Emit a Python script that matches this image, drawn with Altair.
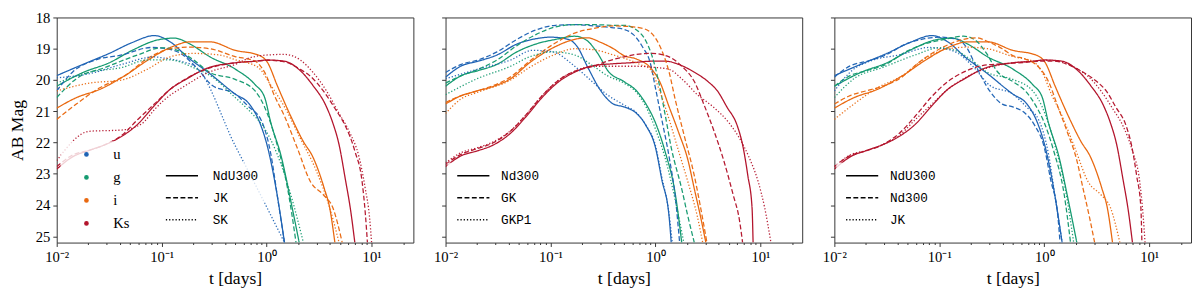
import altair as alt
import pandas as pd

BANDS = ["u", "g", "i", "Ks"]
BAND_COLORS = ["#1f63b4", "#149a70", "#e9680f", "#b3142c"]

# ---- values: log10(t / day) and AB magnitude ----
# NdU300
NDU300_U_LT = [-2, -1.75, -1.5, -1.28, -1.07, -0.91, -0.76, -0.54, -0.3, -0.17, -0.065, 0.01, 0.09, 0.17]
NDU300_U_MAG = [19.86, 19.5, 19.15, 18.8, 18.58, 18.8, 19.25, 19.8, 20.45, 20.75, 21.37, 22.16, 23.48, 25.2]
NDU300_G_LT = [-2, -1.75, -1.5, -1.28, -1.04, -0.88, -0.73, -0.54, -0.3, -0.11, -0.02, 0.04, 0.14, 0.23, 0.31]
NDU300_G_MAG = [20.2, 19.76, 19.45, 19.05, 18.72, 18.66, 18.85, 19.26, 19.65, 20.15, 20.55, 21.37, 22.46, 23.87, 25.2]
NDU300_I_LT = [-2, -1.81, -1.59, -1.35, -1.13, -0.91, -0.73, -0.54, -0.3, -0.08, 0.01, 0.1, 0.23, 0.35, 0.44, 0.55, 0.6, 0.65]
NDU300_I_MAG = [20.9, 20.56, 20.3, 19.86, 19.36, 18.95, 18.78, 18.78, 19.05, 19.2, 19.45, 20.17, 21.16, 21.97, 22.46, 23.48, 24.08, 25.2]
NDU300_KS_LT = [-2, -1.85, -1.69, -1.54, -1.38, -1.23, -1.07, -0.92, -0.77, -0.58, -0.3, -0.11, 0.01, 0.17, 0.32, 0.44, 0.57, 0.63, 0.69, 0.75, 0.8, 0.84]
NDU300_KS_MAG = [22.85, 22.46, 22.25, 22.07, 21.8, 21.42, 20.82, 20.3, 19.98, 19.64, 19.45, 19.4, 19.36, 19.4, 19.7, 20.17, 20.86, 21.37, 22.07, 23.18, 24.17, 25.2]

# JK
JK_U_LT = [-2, -1.85, -1.63, -1.38, -1.1, -0.95, -0.82, -0.67, -0.52, -0.3, -0.17, -0.05, 0.04, 0.1, 0.17]
JK_U_MAG = [20.35, 19.75, 19.36, 19.2, 18.96, 19.0, 19.15, 19.6, 20.17, 20.45, 20.86, 21.3, 22.37, 23.67, 25.2]
JK_G_LT = [-2, -1.81, -1.54, -1.23, -1.0, -0.85, -0.7, -0.54, -0.3, -0.11, -0.02, 0.1, 0.2, 0.28]
JK_G_MAG = [20.56, 19.95, 19.6, 19.2, 18.97, 19.05, 19.35, 19.76, 19.98, 20.35, 20.86, 22.07, 23.48, 25.2]
JK_I_LT = [-2, -1.81, -1.59, -1.35, -1.13, -0.91, -0.73, -0.54, -0.3, -0.11, -0.02, 0.07, 0.17, 0.29, 0.42, 0.54, 0.63, 0.72]
JK_I_MAG = [21.26, 20.76, 20.25, 19.86, 19.3, 19.0, 18.95, 19.0, 19.25, 19.4, 19.75, 20.47, 21.16, 22.16, 23.27, 23.67, 24.08, 25.2]
JK_KS_LT = [-2, -1.85, -1.69, -1.54, -1.38, -1.23, -1.07, -0.92, -0.77, -0.58, -0.3, -0.11, 0.01, 0.17, 0.32, 0.41, 0.54, 0.66, 0.75, 0.84, 0.91, 0.94, 0.96]
JK_KS_MAG = [22.77, 22.4, 22.25, 22.07, 21.77, 21.27, 20.77, 20.3, 19.96, 19.66, 19.45, 19.4, 19.37, 19.42, 19.66, 19.86, 20.35, 20.96, 21.47, 22.27, 23.27, 24.27, 25.2]

# SK
SK_U_LT = [-2, -1.69, -1.38, -1.07, -0.98, -0.82, -0.67, -0.3, -0.1, 0.17]
SK_U_MAG = [19.93, 19.8, 19.5, 19.26, 19.3, 19.4, 19.6, 22.1, 23.4, 25.2]
SK_G_LT = [-2, -1.69, -1.38, -1.14, -0.92, -0.7, -0.52, -0.3, -0.14, -0.02, 0.1, 0.23, 0.35]
SK_G_MAG = [20.1, 19.75, 19.6, 19.36, 19.36, 19.6, 19.9, 20.56, 21.07, 21.55, 22.37, 23.67, 25.2]
SK_I_LT = [-2, -1.69, -1.38, -1.14, -0.92, -0.7, -0.45, -0.3, -0.08, 0.04, 0.17, 0.32, 0.47, 0.6, 0.69]
SK_I_MAG = [20.35, 20.1, 20.0, 19.66, 19.26, 19.15, 19.2, 19.35, 19.6, 20.17, 20.86, 21.86, 22.88, 24.08, 25.2]
SK_KS_LT = [-2, -1.69, -1.38, -1.19, -1.07, -0.98, -0.77, -0.55, -0.3, -0.17, 0.01, 0.17, 0.32, 0.44, 0.57, 0.69, 0.79, 0.88, 0.94, 0.98, 1.0]
SK_KS_MAG = [22.58, 21.64, 21.6, 21.4, 20.95, 20.65, 20.17, 19.75, 19.5, 19.3, 19.2, 19.18, 19.36, 19.75, 20.35, 21.07, 21.67, 22.46, 23.48, 24.38, 25.2]

# Nd300
ND300_U_LT = [-2, -1.85, -1.69, -1.51, -1.32, -1.14, -1.0, -0.83, -0.74, -0.65, -0.52, -0.4, -0.3, -0.18, -0.09, 0.0, 0.06, 0.13, 0.15]
ND300_U_MAG = [19.91, 19.55, 19.4, 19.2, 18.85, 18.68, 18.63, 18.7, 18.96, 19.56, 20.35, 20.77, 20.86, 21.07, 21.46, 22.16, 23.18, 24.38, 25.2]
ND300_G_LT = [-2, -1.85, -1.69, -1.51, -1.32, -1.14, -0.95, -0.77, -0.66, -0.55, -0.45, -0.3, -0.18, -0.09, 0.0, 0.09, 0.19, 0.25]
ND300_G_MAG = [20.2, 19.86, 19.7, 19.5, 19.1, 18.85, 18.7, 18.6, 18.72, 19.15, 19.72, 20.05, 20.35, 20.77, 21.37, 22.27, 23.67, 25.2]
ND300_I_LT = [-2, -1.85, -1.7, -1.54, -1.38, -1.2, -0.97, -0.77, -0.65, -0.52, -0.4, -0.3, -0.18, -0.05, 0.04, 0.13, 0.22, 0.31, 0.37, 0.43, 0.48]
ND300_I_MAG = [20.77, 20.5, 20.35, 20.2, 19.96, 19.45, 18.96, 18.7, 18.65, 18.8, 19.0, 19.22, 19.33, 19.6, 20.05, 20.86, 21.67, 22.57, 23.48, 24.38, 25.2]
ND300_KS_LT = [-2, -1.85, -1.7, -1.54, -1.38, -1.23, -1.08, -0.92, -0.77, -0.59, -0.4, -0.2, -0.05, 0.1, 0.22, 0.37, 0.5, 0.59, 0.68, 0.78, 0.83, 0.88, 0.92, 0.93]
ND300_KS_MAG = [22.77, 22.42, 22.27, 22.07, 21.7, 21.16, 20.56, 20.05, 19.75, 19.54, 19.48, 19.44, 19.4, 19.4, 19.5, 19.75, 20.05, 20.35, 20.86, 21.47, 22.07, 23.06, 24.08, 25.2]

# GK
GK_U_LT = [-2, -1.85, -1.69, -1.51, -1.32, -1.14, -0.95, -0.77, -0.58, -0.4, -0.3, -0.21, -0.12, -0.05, 0.0, 0.06, 0.13, 0.19, 0.23]
GK_U_MAG = [19.76, 19.5, 19.36, 19.1, 18.7, 18.4, 18.25, 18.23, 18.27, 18.33, 18.38, 18.55, 18.96, 19.45, 20.26, 21.26, 22.46, 23.78, 25.2]
GK_G_LT = [-2, -1.85, -1.69, -1.51, -1.32, -1.14, -0.95, -0.77, -0.58, -0.4, -0.3, -0.18, -0.09, -0.03, 0.03, 0.09, 0.15, 0.25, 0.31, 0.37]
GK_G_MAG = [20.1, 19.86, 19.66, 19.36, 18.9, 18.55, 18.3, 18.23, 18.23, 18.25, 18.25, 18.4, 18.76, 19.26, 20.05, 21.07, 22.16, 23.48, 24.38, 25.2]
GK_I_LT = [-2, -1.85, -1.7, -1.38, -1.2, -0.97, -0.77, -0.59, -0.4, -0.3, -0.12, 0.0, 0.06, 0.13, 0.19, 0.28, 0.37, 0.43, 0.49]
GK_I_MAG = [20.72, 20.5, 20.35, 19.9, 19.4, 18.85, 18.5, 18.35, 18.27, 18.28, 18.35, 18.66, 19.05, 19.75, 20.65, 21.86, 23.06, 24.08, 25.2]
GK_KS_LT = [-2, -1.85, -1.7, -1.54, -1.38, -1.23, -1.08, -0.92, -0.77, -0.59, -0.46, -0.3, -0.18, -0.03, 0.13, 0.25, 0.37, 0.46, 0.55, 0.65, 0.74, 0.8, 0.83]
GK_KS_MAG = [22.7, 22.37, 22.2, 22.0, 21.63, 21.1, 20.5, 20.0, 19.72, 19.56, 19.4, 19.26, 19.18, 19.15, 19.26, 19.56, 20.05, 20.77, 21.56, 22.57, 23.67, 24.48, 25.2]

# GKP1
GKP1_U_LT = [-2, -1.7, -1.38, -1.17, -0.98, -0.77, -0.62, -0.46, -0.3, -0.18, -0.09, 0.0, 0.06, 0.13, 0.16]
GKP1_U_MAG = [19.96, 19.66, 19.36, 19.05, 19.1, 19.56, 20.0, 20.47, 20.8, 21.05, 21.45, 22.1, 23.1, 24.3, 25.2]
GKP1_G_LT = [-2, -1.7, -1.38, -1.2, -0.97, -0.77, -0.59, -0.46, -0.3, -0.18, -0.09, 0.0, 0.09, 0.19, 0.27]
GKP1_G_MAG = [20.47, 19.96, 19.56, 19.26, 19.1, 19.2, 19.56, 19.86, 20.1, 20.4, 20.86, 21.57, 22.47, 23.87, 25.2]
GKP1_I_LT = [-2, -1.85, -1.7, -1.38, -1.2, -0.97, -0.77, -0.59, -0.4, -0.3, -0.15, -0.05, 0.04, 0.13, 0.22, 0.31, 0.4, 0.45]
GKP1_I_MAG = [21.07, 20.6, 20.4, 20.0, 19.6, 19.2, 19.0, 19.03, 19.2, 19.3, 19.5, 19.66, 20.35, 21.26, 22.27, 23.27, 24.38, 25.2]
GKP1_KS_LT = [-2, -1.85, -1.7, -1.54, -1.38, -1.23, -1.08, -0.92, -0.77, -0.59, -0.3, -0.18, 0.0, 0.13, 0.25, 0.4, 0.55, 0.7, 0.8, 0.89, 0.98, 1.04, 1.1]
GKP1_KS_MAG = [22.65, 22.32, 22.17, 21.97, 21.62, 21.1, 20.5, 20.0, 19.72, 19.56, 19.56, 19.56, 19.6, 19.66, 19.96, 20.47, 20.86, 21.37, 21.86, 22.46, 23.27, 24.08, 25.2]

CURVES = {
    "NdU300": {"u": (NDU300_U_LT, NDU300_U_MAG), "g": (NDU300_G_LT, NDU300_G_MAG),
               "i": (NDU300_I_LT, NDU300_I_MAG), "Ks": (NDU300_KS_LT, NDU300_KS_MAG)},
    "JK": {"u": (JK_U_LT, JK_U_MAG), "g": (JK_G_LT, JK_G_MAG),
           "i": (JK_I_LT, JK_I_MAG), "Ks": (JK_KS_LT, JK_KS_MAG)},
    "SK": {"u": (SK_U_LT, SK_U_MAG), "g": (SK_G_LT, SK_G_MAG),
           "i": (SK_I_LT, SK_I_MAG), "Ks": (SK_KS_LT, SK_KS_MAG)},
    "Nd300": {"u": (ND300_U_LT, ND300_U_MAG), "g": (ND300_G_LT, ND300_G_MAG),
              "i": (ND300_I_LT, ND300_I_MAG), "Ks": (ND300_KS_LT, ND300_KS_MAG)},
    "GK": {"u": (GK_U_LT, GK_U_MAG), "g": (GK_G_LT, GK_G_MAG),
           "i": (GK_I_LT, GK_I_MAG), "Ks": (GK_KS_LT, GK_KS_MAG)},
    "GKP1": {"u": (GKP1_U_LT, GKP1_U_MAG), "g": (GKP1_G_LT, GKP1_G_MAG),
             "i": (GKP1_I_LT, GKP1_I_MAG), "Ks": (GKP1_KS_LT, GKP1_KS_MAG)},
}

PANEL_MODELS = [["NdU300", "JK", "SK"], ["Nd300", "GK", "GKP1"], ["NdU300", "Nd300", "JK"]]

X_MAJOR = [0.01, 0.1, 1, 10]
X_MINOR = [0.02, 0.03, 0.04, 0.05, 0.06, 0.07, 0.08, 0.09,
           0.2, 0.3, 0.4, 0.5, 0.6, 0.7, 0.8, 0.9,
           2, 3, 4, 5, 6, 7, 8, 9, 20]
Y_TICKS = [18, 19, 20, 21, 22, 23, 24, 25]

DASHES = [[1, 0], [5, 2.5], [1.3, 2]]
OPAC = [1.0, 0.95, 0.75]

SERIF = "Liberation Serif"
MONO = "Liberation Mono"
W, H = 366, 231


def panel_df(models):
    rows = []
    for m in models:
        for b in BANDS:
            lt, mag = CURVES[m][b]
            for a, v in zip(lt, mag):
                rows.append({"model": m, "band": b, "t": 10 ** a, "mag": v})
    return pd.DataFrame(rows)


major_test = "datum.value == 0.01 || datum.value == 0.1 || datum.value == 1 || datum.value == 10"
x_label_expr = ("datum.value == 0.01 ? '10⁻²' : datum.value == 0.1 ? '10⁻¹' : "
                "datum.value == 1 ? '10⁰' : datum.value == 10 ? '10¹' : ''")

X_SCALE = alt.Scale(type="log", domain=[0.01, 25], nice=False)
Y_SCALE = alt.Scale(domain=[18, 25.2], reverse=True, nice=False, zero=False)


def make_panel(idx, models):
    first = idx == 0
    x_axis = alt.Axis(values=X_MAJOR + X_MINOR, labelExpr=x_label_expr,
                      tickSize={"condition": {"test": major_test, "value": 4}, "value": 2},
                      labelFlush=False, labelOverlap=False, grid=False, domain=False,
                      labelFont=SERIF, labelFontSize=15, labelPadding=3,
                      title="t [days]", titleFont=SERIF, titleFontSize=18,
                      titleFontWeight="normal", titlePadding=6, tickColor="#333",
                      labelColor="black", titleColor="black")
    if first:
        y_axis = alt.Axis(values=Y_TICKS, tickSize=4, grid=False, domain=False,
                          labelFont=SERIF, labelFontSize=15, labelPadding=3,
                          title="AB Mag", titleFont=SERIF, titleFontSize=18,
                          titleFontWeight="normal", titlePadding=9, tickColor="#333",
                          labelColor="black", titleColor="black")
        dash_x, sym_off, lab_off = 99, 6, 14
    else:
        y_axis = alt.Axis(values=Y_TICKS, tickSize=4, grid=False, domain=False,
                          labels=False, title=None, tickColor="#333")
        dash_x, sym_off, lab_off = 2, 3, 11

    dash_legend = alt.Legend(title=None, orient="none", legendX=dash_x, legendY=149,
                             padding=6, fillColor="rgba(255,255,255,0.8)",
                             symbolType="stroke", symbolSize=1089, symbolStrokeWidth=1.5,
                             symbolStrokeColor="black", symbolOffset=sym_off,
                             labelOffset=lab_off, clipHeight=15, rowPadding=7.5,
                             labelFont=MONO, labelFontSize=13, labelColor="black")

    df = panel_df(models)
    lines = alt.Chart(df).mark_line(
        strokeWidth=1.3, clip=True, interpolate="monotone"
    ).encode(
        x=alt.X("t:Q", scale=X_SCALE, axis=x_axis),
        y=alt.Y("mag:Q", scale=Y_SCALE, axis=y_axis),
        color=alt.Color("band:N", scale=alt.Scale(domain=BANDS, range=BAND_COLORS),
                        sort=BANDS, legend=None),
        strokeDash=alt.StrokeDash("model:N", scale=alt.Scale(domain=models, range=DASHES),
                                  sort=models, legend=dash_legend),
        opacity=alt.Opacity("model:N", scale=alt.Scale(domain=models, range=OPAC),
                            sort=models, legend=None),
    )
    if not first:
        return lines.properties(width=W, height=H)

    color_legend = alt.Legend(title=None, orient="none", legendX=4, legendY=127,
                              padding=6, fillColor="rgba(255,255,255,0.8)",
                              symbolType="circle", symbolSize=11, symbolOpacity=1,
                              symbolOffset=13, labelOffset=20, clipHeight=15,
                              rowPadding=7.6, labelFont=SERIF, labelFontSize=15,
                              labelColor="black")
    # invisible points that only carry the band legend (filled dots)
    dots = alt.Chart(df).mark_circle(size=0, opacity=1, clip=True).encode(
        x=alt.X("t:Q", scale=X_SCALE, axis=x_axis),
        y=alt.Y("mag:Q", scale=Y_SCALE, axis=y_axis),
        fill=alt.Fill("band:N", scale=alt.Scale(domain=BANDS, range=BAND_COLORS),
                      sort=BANDS, legend=color_legend),
    )
    return alt.layer(dots, lines).properties(width=W, height=H)


chart = alt.hconcat(
    *[make_panel(i, m) for i, m in enumerate(PANEL_MODELS)], spacing=19
).resolve_scale(
    color="independent", fill="independent", strokeDash="independent", opacity="independent"
).properties(
    padding={"top": -2, "left": 0, "right": 0, "bottom": 0}
).configure_view(
    stroke="#333", strokeWidth=1
)

chart.save("out.html", embed_options={"renderer": "svg", "actions": False})
